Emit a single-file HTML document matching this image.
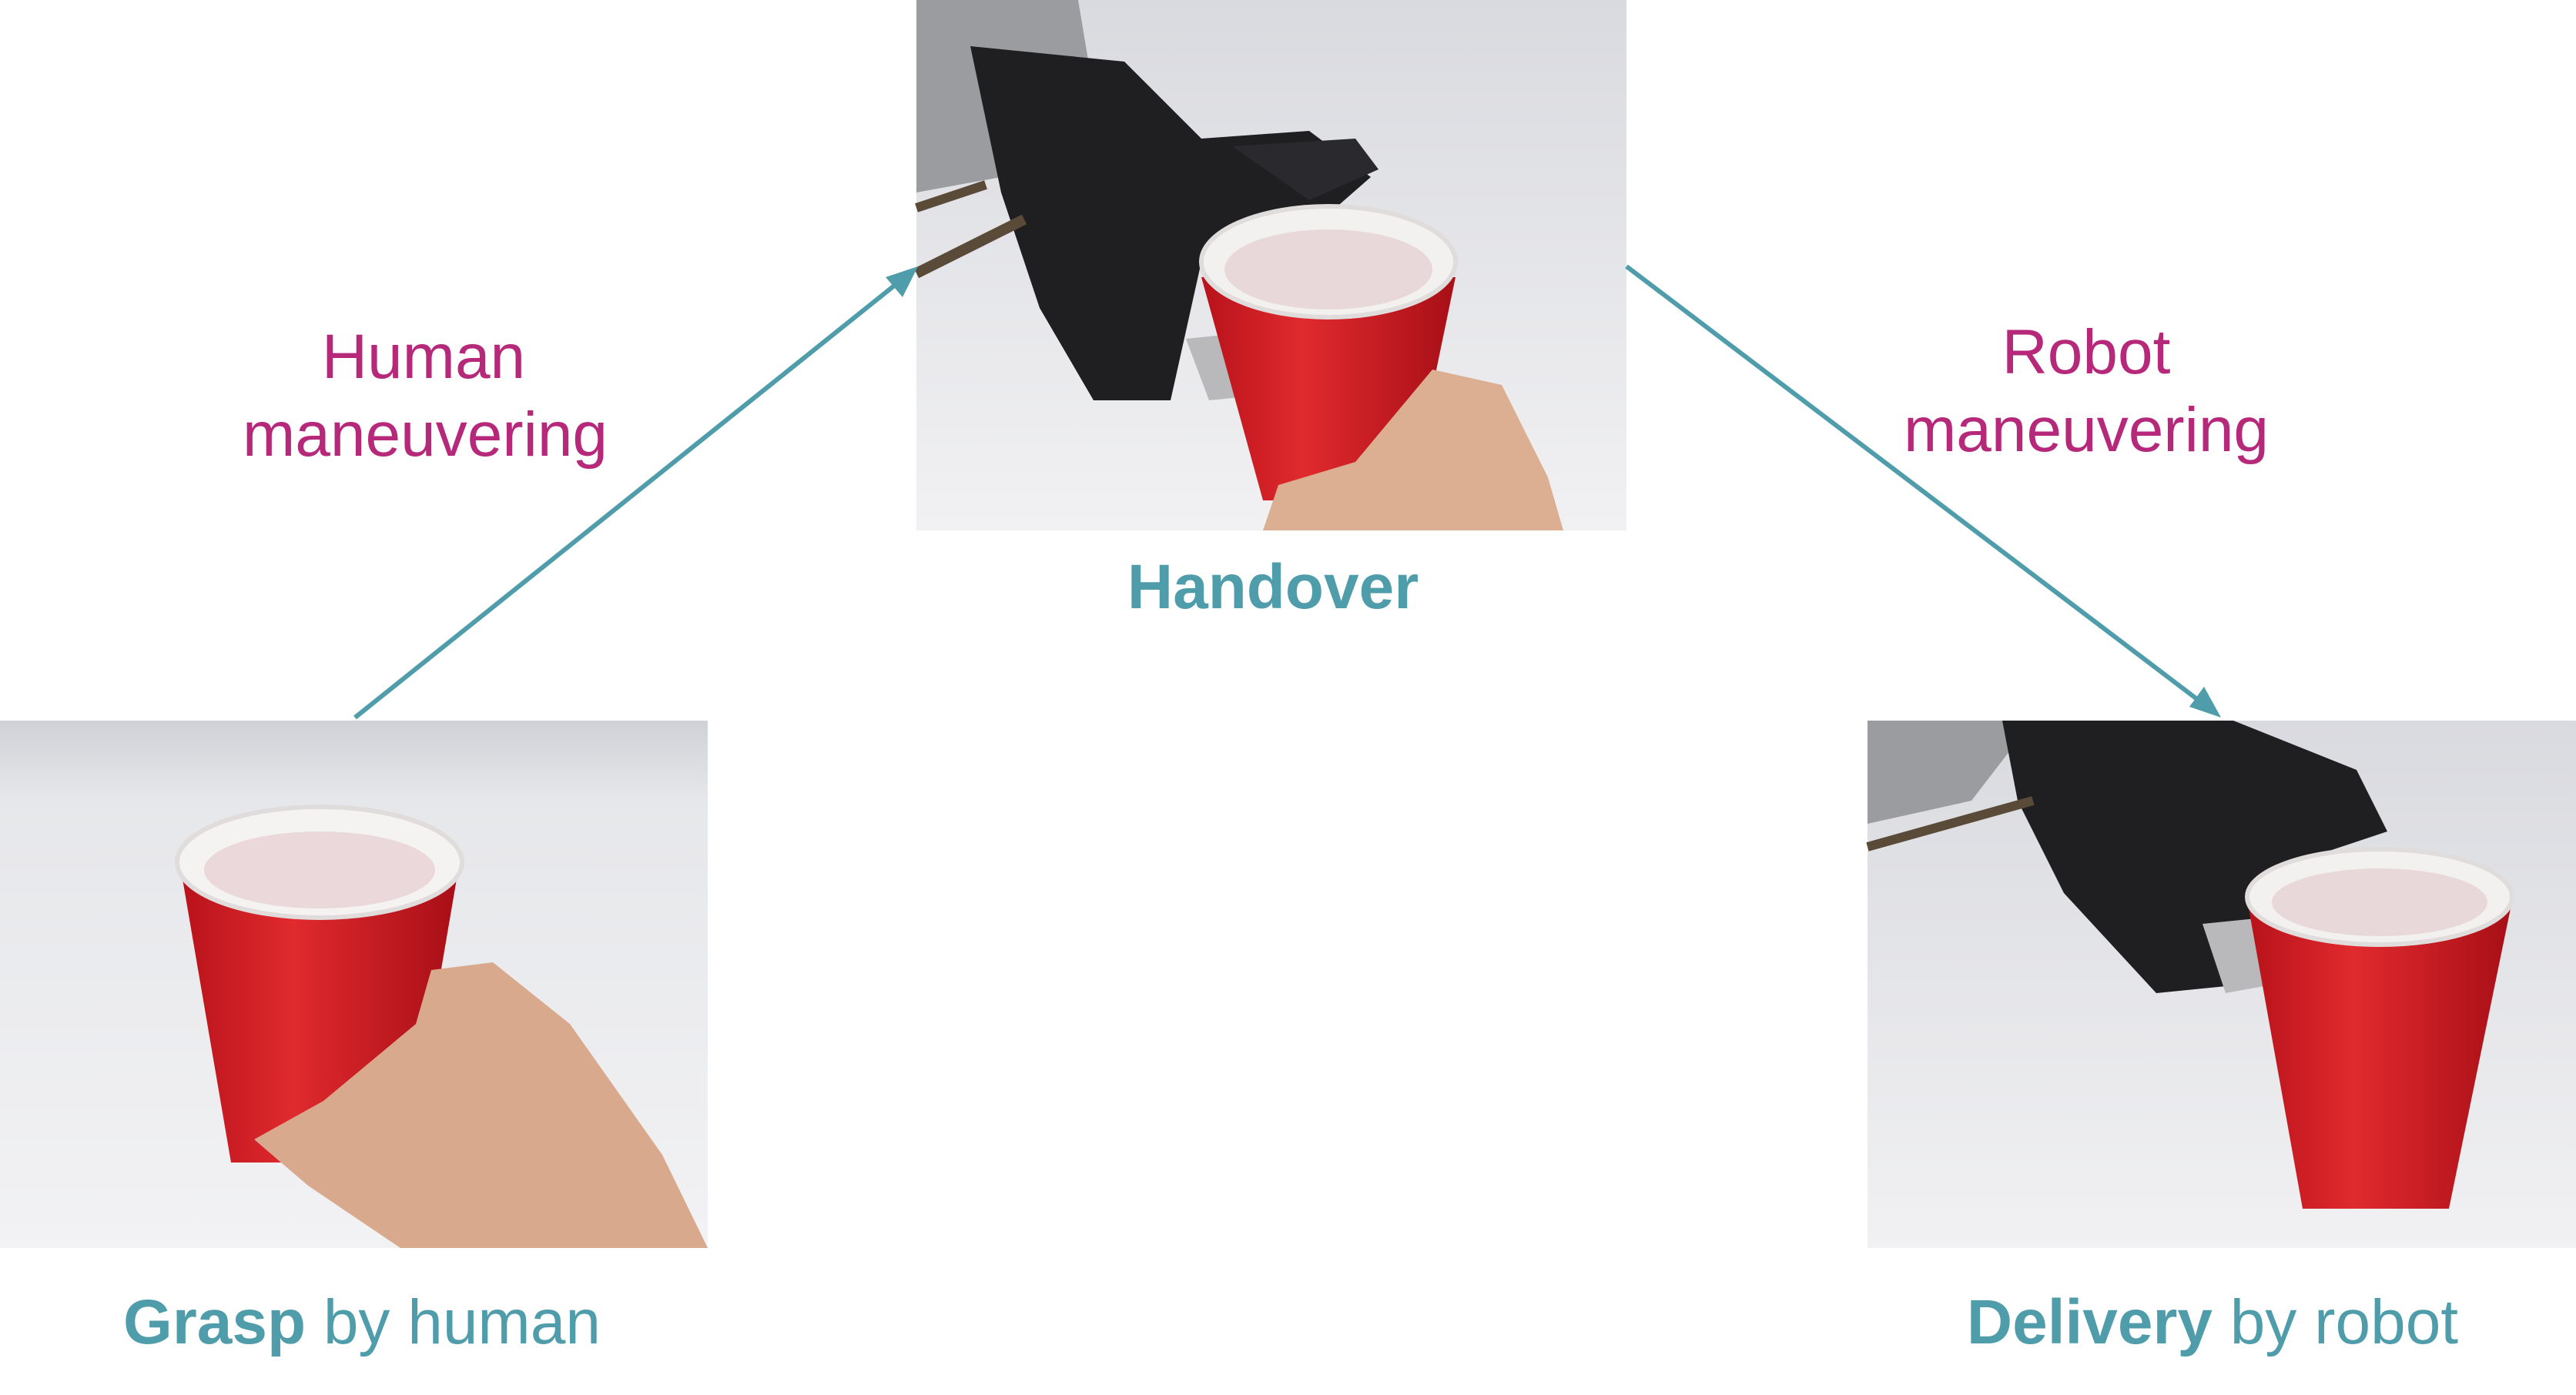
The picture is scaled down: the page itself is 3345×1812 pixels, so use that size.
<!DOCTYPE html>
<html><head><meta charset="utf-8">
<style>
html,body{margin:0;padding:0;background:#fff;}
svg{display:block;}
text{font-family:"Liberation Sans","DejaVu Sans",sans-serif;}
</style></head>
<body>
<svg width="3345" height="1812" viewBox="0 0 3345 1812" xmlns="http://www.w3.org/2000/svg">
<defs>
<linearGradient id="bg1" x1="0" y1="0" x2="0" y2="1"><stop offset="0" stop-color="#d9dadf"/><stop offset="1" stop-color="#f1f1f3"/></linearGradient>
<linearGradient id="bg2" x1="0" y1="0" x2="0" y2="1"><stop offset="0" stop-color="#cfd1d6"/><stop offset="0.15" stop-color="#e6e7ea"/><stop offset="1" stop-color="#f2f2f4"/></linearGradient>
<linearGradient id="red" x1="0" y1="0" x2="1" y2="0"><stop offset="0" stop-color="#b8121b"/><stop offset="0.4" stop-color="#e02a2e"/><stop offset="1" stop-color="#a80f17"/></linearGradient>
</defs>
<rect width="3345" height="1812" fill="#fff"/>

<!-- top photo -->
<g>
<rect x="1190" y="0" width="922" height="689" fill="url(#bg1)"/>
<polygon points="1190,0 1400,0 1420,120 1300,230 1190,250" fill="#9a9ca0"/>
<polygon points="1260,60 1460,80 1560,180 1700,170 1780,230 1700,300 1560,340 1520,520 1420,520 1350,400 1300,250" fill="#1f1f22"/>
<polygon points="1600,190 1760,180 1790,220 1700,260" fill="#2a2a2e"/>
<line x1="1190" y1="355" x2="1330" y2="285" stroke="#5a4a38" stroke-width="14"/>
<line x1="1190" y1="270" x2="1280" y2="240" stroke="#5a4a38" stroke-width="12"/>
<polygon points="1540,440 1640,430 1670,510 1570,520" fill="#b9b9bb"/>
<polygon points="1560,360 1890,360 1830,650 1640,650" fill="url(#red)"/>
<ellipse cx="1725" cy="340" rx="165" ry="72" fill="#f3f0f0" stroke="#e0dcdc" stroke-width="6"/>
<ellipse cx="1725" cy="350" rx="135" ry="52" fill="#e9d8da"/>
<path d="M1640,689 L1660,630 L1760,600 L1860,480 L1950,500 L2010,620 L2030,689 Z" fill="#dcae92"/>
</g>

<!-- bottom left photo -->
<g>
<rect x="0" y="936" width="919" height="685" fill="url(#bg2)"/>
<polygon points="235,1130 595,1130 530,1510 300,1510" fill="url(#red)"/>
<ellipse cx="415" cy="1120" rx="185" ry="72" fill="#f5f2f2" stroke="#e0dcdc" stroke-width="6"/>
<ellipse cx="415" cy="1130" rx="150" ry="50" fill="#ead8da"/>
<path d="M330,1480 L420,1430 L540,1330 L560,1260 L640,1250 L740,1330 L860,1500 L919,1621 L520,1621 L400,1540 Z" fill="#d9a98d"/>
</g>

<!-- bottom right photo -->
<g>
<rect x="2425" y="936" width="920" height="685" fill="url(#bg1)"/>
<polygon points="2425,936 2640,936 2560,1040 2425,1070" fill="#9a9ca0"/>
<polygon points="2600,936 2900,936 3060,1000 3100,1080 2950,1130 2900,1280 2800,1290 2680,1160 2620,1040" fill="#1f1f22"/>
<line x1="2425" y1="1100" x2="2640" y2="1040" stroke="#5a4a38" stroke-width="12"/>
<polygon points="2860,1200 2960,1190 3000,1270 2890,1290" fill="#b9b9bb"/>
<polygon points="2920,1180 3260,1180 3180,1570 2990,1570" fill="url(#red)"/>
<ellipse cx="3090" cy="1165" rx="172" ry="62" fill="#f3f0f0" stroke="#e0dcdc" stroke-width="6"/>
<ellipse cx="3090" cy="1172" rx="140" ry="44" fill="#e9d8da"/>
</g>

<!-- arrows -->
<g stroke="#4f9cab" stroke-width="6" fill="none">
<line x1="461" y1="932" x2="1170" y2="364"/>
<line x1="2112" y1="346" x2="2862" y2="915"/>
</g>
<polygon points="1192,346 1150,360 1172,386" fill="#4f9cab"/>
<polygon points="2884,932 2862,892 2843,918" fill="#4f9cab"/>

<!-- labels -->
<g fill="#b5287a" font-size="82" text-anchor="middle">
<text x="550" y="491">Human</text>
<text x="552" y="592">maneuvering</text>
<text x="2709" y="485">Robot</text>
<text x="2709" y="586">maneuvering</text>
</g>
<g fill="#4f9cab" font-size="82" text-anchor="middle">
<text x="1653" y="790" font-weight="bold">Handover</text>
<text x="470" y="1745"><tspan font-weight="bold">Grasp</tspan> by human</text>
<text x="2873" y="1745"><tspan font-weight="bold">Delivery</tspan> by robot</text>
</g>
</svg>
</body></html>
